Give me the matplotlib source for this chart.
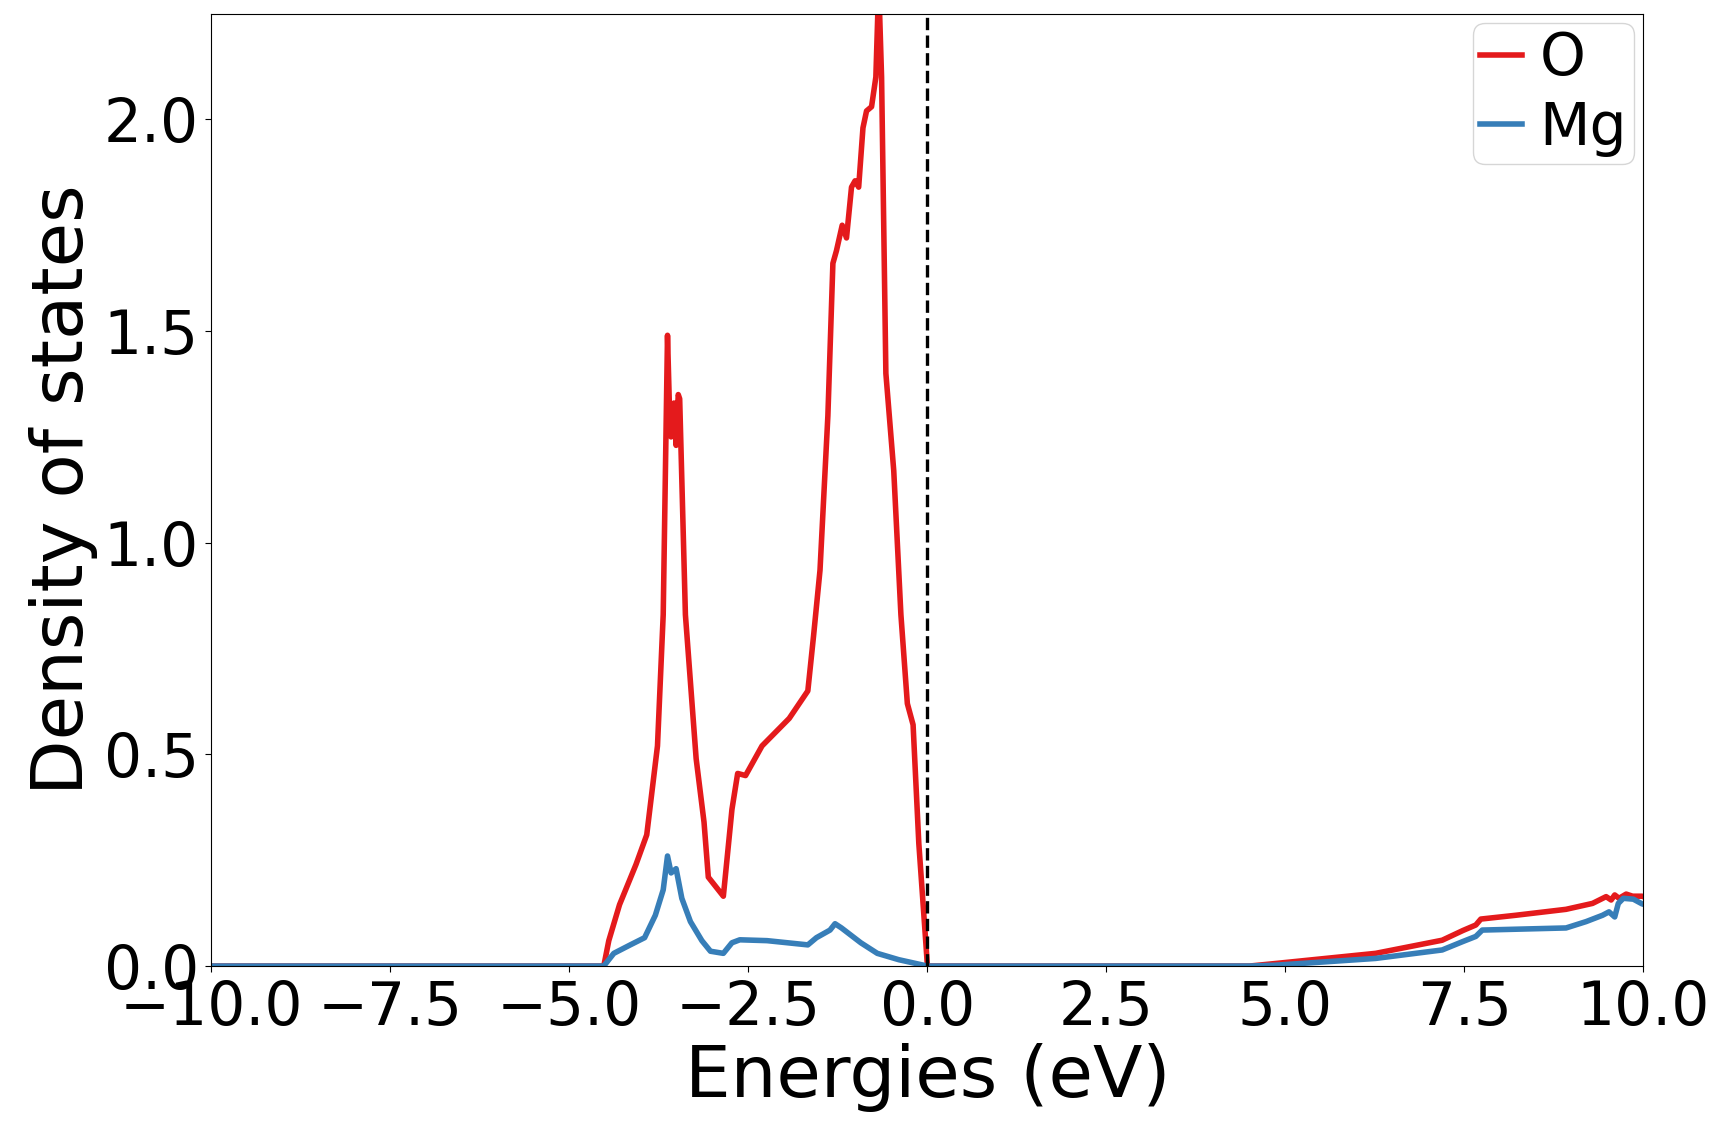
import matplotlib
matplotlib.use("Agg")
import matplotlib.pyplot as plt
import numpy as np

# Projected DOS (energies in eV, relative to E_fermi)
e_o = [-10.0, -4.52, -4.45, -4.30, -4.07, -3.92, -3.77, -3.69, -3.63, -3.60,
       -3.58, -3.54, -3.51, -3.48, -3.46, -3.38, -3.23, -3.12, -3.06, -2.85,
       -2.73, -2.65, -2.54, -2.31, -1.93, -1.67, -1.59, -1.50, -1.39, -1.32,
       -1.27, -1.19, -1.13, -1.06, -1.01, -0.96, -0.90, -0.85, -0.78, -0.72,
       -0.68, -0.64, -0.58, -0.47, -0.37, -0.28, -0.20, -0.12, -0.02,
       0.0, 4.5, 4.86, 6.26, 7.19, 7.48, 7.66, 7.73, 8.22, 8.92, 9.29,
       9.48, 9.55, 9.60, 9.66, 9.76, 9.85, 9.98, 10.0]
dos_o = [0.0, 0.0, 0.06, 0.145, 0.24, 0.31, 0.52, 0.83, 1.49, 1.30,
         1.25, 1.33, 1.23, 1.35, 1.34, 0.83, 0.49, 0.34, 0.21, 0.165,
         0.37, 0.455, 0.45, 0.52, 0.585, 0.65, 0.78, 0.935, 1.30, 1.66,
         1.69, 1.75, 1.72, 1.84, 1.855, 1.84, 1.98, 2.02, 2.03, 2.10,
         2.32, 2.10, 1.40, 1.17, 0.83, 0.62, 0.57, 0.29, 0.05,
         0.0, 0.0, 0.006, 0.03, 0.061, 0.084, 0.097, 0.111, 0.12, 0.134, 0.148,
         0.164, 0.156, 0.168, 0.16, 0.17, 0.165, 0.165, 0.164]

e_mg = [-10.0, -4.52, -4.38, -4.15, -3.95, -3.80, -3.69, -3.63, -3.58, -3.51,
        -3.43, -3.31, -3.15, -3.03, -2.85, -2.73, -2.62, -2.24, -1.67, -1.55,
        -1.36, -1.29, -1.20, -0.93, -0.70, -0.40, 0.0,
        4.5, 4.86, 6.26, 7.19, 7.48, 7.66, 7.75, 8.22, 8.92, 9.20, 9.43,
        9.52, 9.60, 9.65, 9.72, 9.86, 9.98, 10.0]
dos_mg = [0.0, 0.0, 0.03, 0.05, 0.067, 0.12, 0.18, 0.26, 0.22, 0.23,
          0.16, 0.105, 0.06, 0.035, 0.03, 0.055, 0.062, 0.06, 0.05, 0.067,
          0.085, 0.10, 0.09, 0.055, 0.03, 0.015, 0.0,
          0.0, 0.002, 0.018, 0.038, 0.058, 0.07, 0.085, 0.087, 0.09, 0.105, 0.12,
          0.128, 0.116, 0.148, 0.16, 0.158, 0.147, 0.146]

fig = plt.figure(figsize=(17.19, 11.32), dpi=100)
ax = fig.add_axes([0.123, 0.1466, 0.833, 0.8414])

ax.plot(e_o, dos_o, color="#e41a1c", lw=4, label="O")
ax.plot(e_mg, dos_mg, color="#377eb8", lw=4, label="Mg")
ax.axvline(0.0, color="k", ls="--", lw=2.4)

ax.set_xlim(-10, 10)
ax.set_ylim(0, 2.25)
ax.set_xticks(np.arange(-10, 10.1, 2.5))
ax.set_yticks(np.arange(0, 2.1, 0.5))
ax.tick_params(labelsize=43, length=4, pad=5)
ax.set_xlabel("Energies (eV)", fontsize=52)
ax.set_ylabel("Density of states", fontsize=52)

leg = ax.legend(loc="upper right", fontsize=42, handlelength=0.72,
                handletextpad=0.3, borderaxespad=0.16, borderpad=0.12,
                labelspacing=0.22)

fig.savefig("out.png", dpi=100)
